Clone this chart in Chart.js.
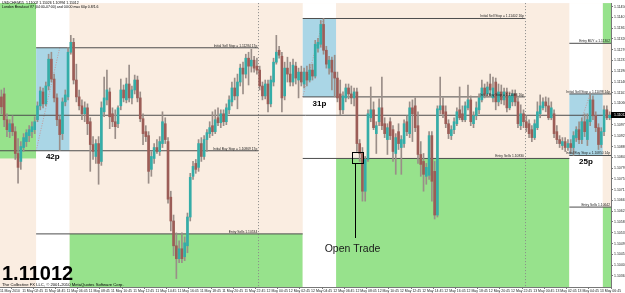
<!DOCTYPE html>
<html>
<head>
<meta charset="utf-8">
<script src="https://cdn.jsdelivr.net/npm/chart.js@4.4.1/dist/chart.umd.min.js"></script>
<style>
  html, body { margin: 0; padding: 0; background: #fff; }
</style>
</head>
<body>
<canvas id="chart" width="625" height="293"></canvas>
<script>
// ── Data: USDCHF M15, one row per candle [open, high, low, close] ───────────
// first candle 11 May 00:45, last candle 13 May 07:00
const ohlc = [
  // 11 May 00:45 - 03:45
  [1.11086, 1.11114, 1.11018, 1.11046], [1.11098, 1.11122, 1.10966, 1.10994],
  [1.10994, 1.11018, 1.10926, 1.10954], [1.10946, 1.10994, 1.10922, 1.10978],
  [1.10978, 1.11010, 1.10930, 1.10946], [1.10946, 1.10966, 1.10834, 1.10858],
  [1.10858, 1.10918, 1.10738, 1.10802], [1.10826, 1.10906, 1.10794, 1.10886],
  [1.10882, 1.10938, 1.10866, 1.10922], [1.10906, 1.10954, 1.10886, 1.10942],
  [1.10930, 1.10970, 1.10906, 1.10954], [1.10946, 1.10986, 1.10922, 1.10966],
  [1.10954, 1.11006, 1.10938, 1.10986],
  // 11 May 04:00 - 06:45 (range)
  [1.10994, 1.11066, 1.10986, 1.11050], [1.11050, 1.11126, 1.11034, 1.11110],
  [1.11106, 1.11122, 1.11042, 1.11058], [1.11058, 1.11146, 1.11050, 1.11130],
  [1.11130, 1.11258, 1.11114, 1.11238], [1.11238, 1.11266, 1.11146, 1.11158],
  [1.11158, 1.11178, 1.11066, 1.11082], [1.11082, 1.11098, 1.10970, 1.10994],
  [1.10994, 1.11010, 1.10870, 1.10934], [1.10938, 1.11082, 1.10914, 1.11066],
  [1.11066, 1.11114, 1.11050, 1.11094], [1.11086, 1.11286, 1.11074, 1.11266],
  // 11 May 07:00 - 23:45
  [1.11266, 1.11334, 1.11258, 1.11306], [1.11306, 1.11322, 1.11138, 1.11154],
  [1.11154, 1.11218, 1.11066, 1.11086], [1.11086, 1.11114, 1.11034, 1.11050],
  [1.11050, 1.11074, 1.10994, 1.11018], [1.11018, 1.11066, 1.10986, 1.11042],
  [1.11042, 1.11058, 1.10934, 1.10978], [1.10986, 1.11002, 1.10786, 1.10894],
  [1.10894, 1.10926, 1.10834, 1.10866], [1.10846, 1.10914, 1.10818, 1.10898],
  [1.10898, 1.10926, 1.10734, 1.10818], [1.10826, 1.11066, 1.10810, 1.11042],
  [1.11026, 1.11166, 1.11006, 1.11082], [1.11074, 1.11194, 1.11054, 1.11114],
  [1.11106, 1.11122, 1.10958, 1.11006], [1.11018, 1.11042, 1.10966, 1.10986],
  [1.10986, 1.11034, 1.10918, 1.10966], [1.10978, 1.11050, 1.10962, 1.11042],
  [1.11050, 1.11158, 1.11034, 1.11114], [1.11114, 1.11134, 1.11066, 1.11082],
  [1.11074, 1.11162, 1.11062, 1.11138], [1.11138, 1.11214, 1.11066, 1.11082],
  [1.11082, 1.11130, 1.11058, 1.11114], [1.11114, 1.11174, 1.11098, 1.11154],
  [1.11154, 1.11170, 1.11066, 1.11082], [1.11082, 1.11106, 1.10986, 1.10998],
  [1.10998, 1.11018, 1.10894, 1.10938], [1.10946, 1.10970, 1.10906, 1.10926],
  [1.10930, 1.10946, 1.10738, 1.10786], [1.10794, 1.10866, 1.10766, 1.10846],
  [1.10838, 1.10898, 1.10818, 1.10882], [1.10882, 1.10914, 1.10858, 1.10866],
  [1.10866, 1.10926, 1.10850, 1.10906], [1.10898, 1.11026, 1.10882, 1.10986],
  [1.10978, 1.11002, 1.10898, 1.10914], [1.10906, 1.10922, 1.10658, 1.10674],
  [1.10682, 1.10706, 1.10546, 1.10586], [1.10586, 1.10610, 1.10446, 1.10486],
  [1.10486, 1.10538, 1.10354, 1.10434], [1.10434, 1.10506, 1.10418, 1.10474],
  [1.10474, 1.10538, 1.10418, 1.10434], [1.10442, 1.10522, 1.10426, 1.10498],
  [1.10486, 1.10618, 1.10458, 1.10602], [1.10602, 1.10778, 1.10586, 1.10762],
  [1.10766, 1.10826, 1.10754, 1.10806], [1.10818, 1.10834, 1.10778, 1.10794],
  [1.10802, 1.10914, 1.10786, 1.10898], [1.10898, 1.10922, 1.10826, 1.10846],
  [1.10846, 1.10930, 1.10834, 1.10914], [1.10914, 1.10954, 1.10866, 1.10942],
  [1.10938, 1.10986, 1.10922, 1.10962], [1.10970, 1.11026, 1.10930, 1.10946],
  [1.10946, 1.11034, 1.10938, 1.10994], [1.11002, 1.11042, 1.10970, 1.10982],
  [1.10982, 1.11034, 1.10962, 1.11018], [1.11018, 1.11034, 1.10970, 1.10986],
  [1.10986, 1.11058, 1.10974, 1.11042], [1.11034, 1.11090, 1.11018, 1.11074],
  [1.11066, 1.11146, 1.11050, 1.11122], [1.11122, 1.11162, 1.11074, 1.11090],
  [1.11090, 1.11178, 1.11038, 1.11146], [1.11146, 1.11218, 1.11130, 1.11202],
  [1.11202, 1.11226, 1.11098, 1.11178], [1.11178, 1.11258, 1.11162, 1.11242],
  [1.11242, 1.11266, 1.11134, 1.11210], [1.11210, 1.11278, 1.11186, 1.11234],
  [1.11234, 1.11250, 1.11186, 1.11202], [1.11210, 1.11242, 1.11178, 1.11194],
  // 12 May 00:00 - 03:45
  [1.11194, 1.11210, 1.11114, 1.11130], [1.11130, 1.11146, 1.11074, 1.11090],
  [1.11090, 1.11154, 1.11078, 1.11138], [1.11138, 1.11154, 1.11026, 1.11058],
  [1.11058, 1.11170, 1.11046, 1.11154], [1.11146, 1.11242, 1.11130, 1.11226],
  [1.11226, 1.11334, 1.11218, 1.11266], [1.11274, 1.11290, 1.11242, 1.11254],
  [1.11250, 1.11266, 1.11026, 1.11082], [1.11090, 1.11226, 1.11074, 1.11202],
  [1.11202, 1.11246, 1.11146, 1.11178], [1.11178, 1.11226, 1.11130, 1.11146],
  [1.11146, 1.11238, 1.11130, 1.11214], [1.11210, 1.11226, 1.11138, 1.11162],
  [1.11154, 1.11202, 1.11082, 1.11186], [1.11186, 1.11210, 1.11130, 1.11146],
  // 12 May 04:00 - 06:45 (range)
  [1.11138, 1.11202, 1.11122, 1.11186], [1.11186, 1.11210, 1.11130, 1.11154],
  [1.11154, 1.11218, 1.11146, 1.11194], [1.11194, 1.11218, 1.11154, 1.11170],
  [1.11170, 1.11314, 1.11162, 1.11298], [1.11282, 1.11322, 1.11266, 1.11306],
  [1.11298, 1.11394, 1.11286, 1.11378], [1.11378, 1.11402, 1.11258, 1.11274],
  [1.11274, 1.11290, 1.11202, 1.11218], [1.11202, 1.11250, 1.11178, 1.11234],
  [1.11234, 1.11246, 1.11114, 1.11186], [1.11186, 1.11254, 1.11086, 1.11162],
  // 12 May 07:00 - 23:45
  [1.11162, 1.11186, 1.11066, 1.11082], [1.11098, 1.11154, 1.11014, 1.11034],
  [1.11034, 1.11106, 1.11018, 1.11090], [1.11082, 1.11138, 1.11066, 1.11122],
  [1.11122, 1.11138, 1.11078, 1.11098], [1.11098, 1.11130, 1.11058, 1.11082],
  [1.11082, 1.11122, 1.11050, 1.11106], [1.11106, 1.11122, 1.10866, 1.10898],
  [1.10898, 1.10914, 1.10826, 1.10858], [1.10858, 1.10882, 1.10666, 1.10706],
  [1.10706, 1.10846, 1.10666, 1.10834], [1.10834, 1.11034, 1.10826, 1.11018],
  [1.11002, 1.11126, 1.10986, 1.11034], [1.11034, 1.11066, 1.10954, 1.10962],
  [1.10938, 1.10986, 1.10858, 1.10970], [1.10986, 1.11078, 1.10970, 1.11042],
  [1.11042, 1.11166, 1.10954, 1.10970], [1.10978, 1.11002, 1.10922, 1.10938],
  [1.10914, 1.10978, 1.10854, 1.10962], [1.10986, 1.11002, 1.10914, 1.10930],
  [1.10954, 1.10970, 1.10826, 1.10866], [1.10858, 1.10938, 1.10774, 1.10922],
  [1.10946, 1.10978, 1.10874, 1.10898], [1.10882, 1.10930, 1.10774, 1.10914],
  [1.10898, 1.10994, 1.10882, 1.10978], [1.10986, 1.11010, 1.10930, 1.10946],
  [1.10938, 1.11066, 1.10922, 1.11042], [1.11042, 1.11074, 1.10906, 1.11018],
  [1.11050, 1.11082, 1.10946, 1.10962], [1.10970, 1.11026, 1.10818, 1.10854],
  [1.10854, 1.10906, 1.10766, 1.10814], [1.10826, 1.10858, 1.10706, 1.10774],
  [1.10766, 1.10818, 1.10734, 1.10802], [1.10770, 1.10946, 1.10754, 1.10930],
  [1.10930, 1.10946, 1.10666, 1.10746], [1.10786, 1.10826, 1.10594, 1.10610],
  [1.10610, 1.11050, 1.10602, 1.11038], [1.11034, 1.11166, 1.11018, 1.11050],
  [1.11050, 1.11082, 1.11002, 1.11018], [1.11026, 1.11050, 1.10962, 1.10978],
  [1.10978, 1.10994, 1.10918, 1.10938], [1.10930, 1.10970, 1.10914, 1.10954],
  [1.10954, 1.11002, 1.10938, 1.10986], [1.10978, 1.11042, 1.10970, 1.11026],
  [1.11034, 1.11126, 1.10994, 1.11002], [1.11018, 1.11050, 1.10986, 1.10994],
  [1.10994, 1.11066, 1.10986, 1.11050], [1.11042, 1.11134, 1.11034, 1.11074],
  [1.11074, 1.11090, 1.10970, 1.10986], [1.10978, 1.11026, 1.10962, 1.11010],
  [1.11010, 1.11066, 1.10994, 1.11042], [1.11034, 1.11098, 1.11018, 1.11082],
  [1.11074, 1.11154, 1.11066, 1.11122], [1.11122, 1.11138, 1.11082, 1.11098],
  [1.11098, 1.11146, 1.11086, 1.11126], [1.11138, 1.11178, 1.11090, 1.11114],
  [1.11082, 1.11166, 1.11066, 1.11122], [1.11146, 1.11162, 1.11034, 1.11066],
  [1.11066, 1.11138, 1.11050, 1.11106], [1.11106, 1.11134, 1.11058, 1.11074],
  [1.11074, 1.11122, 1.11054, 1.11106], [1.11106, 1.11122, 1.11026, 1.11042],
  [1.11042, 1.11106, 1.11034, 1.11090], [1.11066, 1.11114, 1.11050, 1.11098],
  [1.11098, 1.11114, 1.11050, 1.11066], [1.11066, 1.11082, 1.10962, 1.10978],
  [1.10970, 1.11054, 1.10954, 1.11018], [1.11018, 1.11034, 1.10962, 1.10986],
  // 13 May 00:00 - 03:45
  [1.10986, 1.11010, 1.10946, 1.10962], [1.10978, 1.10994, 1.10922, 1.10938],
  [1.10954, 1.10970, 1.10906, 1.10922], [1.10922, 1.10994, 1.10914, 1.10978],
  [1.10962, 1.11066, 1.10954, 1.11026], [1.11018, 1.11094, 1.11002, 1.11050],
  [1.11042, 1.11082, 1.11034, 1.11066], [1.11066, 1.11086, 1.11026, 1.11050],
  [1.11050, 1.11082, 1.10994, 1.11002], [1.11002, 1.11066, 1.10994, 1.11042],
  [1.11018, 1.11034, 1.10922, 1.10938], [1.10946, 1.10970, 1.10898, 1.10914],
  [1.10914, 1.10930, 1.10882, 1.10898], [1.10890, 1.10922, 1.10874, 1.10906],
  [1.10906, 1.10922, 1.10866, 1.10882], [1.10882, 1.10914, 1.10870, 1.10898],
  // 13 May 04:00 - 06:45 (range)
  [1.10898, 1.10914, 1.10858, 1.10882], [1.10882, 1.10946, 1.10850, 1.10930],
  [1.10922, 1.10966, 1.10906, 1.10954], [1.10954, 1.10986, 1.10898, 1.10914],
  [1.10914, 1.11002, 1.10898, 1.10986], [1.10986, 1.11018, 1.10926, 1.10946],
  [1.10914, 1.11018, 1.10890, 1.10994], [1.10986, 1.11098, 1.10970, 1.11074],
  [1.11074, 1.11090, 1.10994, 1.11010], [1.11010, 1.11026, 1.10946, 1.10962],
  [1.10962, 1.10978, 1.10874, 1.10894], [1.10894, 1.10962, 1.10882, 1.10946],
  // 13 May 07:00 -
  [1.10946, 1.11050, 1.10930, 1.11034], [1.11034, 1.11050, 1.10994, 1.11002],
  [1.11002, 1.11026, 1.10994, 1.11012]
];

const lastPrice = 1.11012;
const priceMin = 1.10320;
const priceMax = 1.11464;

// price scale labels on the right
const priceTicks = [
  1.11450, 1.11407, 1.11363, 1.11320, 1.11276, 1.11233, 1.11190, 1.11146, 1.11103,
  1.11060, 1.11016, 1.10973, 1.10929, 1.10886, 1.10842, 1.10799, 1.10756, 1.10712,
  1.10669, 1.10625, 1.10582, 1.10539, 1.10495, 1.10452, 1.10408, 1.10365
];

// time scale labels, one every 8 candles
const tickLabels = [
  "11 May 2010", "11 May 02:45", "11 May 04:45", "11 May 06:45", "11 May 08:45",
  "11 May 10:45", "11 May 12:45", "11 May 14:45", "11 May 16:45", "11 May 18:45",
  "11 May 20:45", "11 May 22:45", "12 May 00:45", "12 May 02:45", "12 May 04:45",
  "12 May 06:45", "12 May 08:45", "12 May 10:45", "12 May 12:45", "12 May 14:45",
  "12 May 16:45", "12 May 18:45", "12 May 20:45", "12 May 22:45", "13 May 00:45",
  "13 May 02:45", "13 May 04:45", "13 May 06:45"
];

// London range boxes: [first candle, candle after end, low, high]
const rangeBoxes = [
  [13, 25, 1.10869, 1.11284],
  [109, 121, 1.11086, 1.11402],
  [205, 217, 1.10850, 1.11098]
];
const boxPips = ["42p", "31p", "25p"];

// entry zones: [from candle, to candle, low price, high price] (null = chart edge)
const entryZones = [
  [0, 13, 1.10838, null],
  [25, 109, null, 1.10534],
  [121, 205, null, 1.10838],
  [217, 220, 1.11302, null],
  [217, 220, null, 1.10642]
];

// levels: [price, from candle, to candle, label end candle, label]
const levels = [
  [1.11284, 13, 93, 93, "Initial Sell Stop = 1.11284 17p"],
  [1.10869, 0, 93, 93, "Initial Buy Stop = 1.10869 17p"],
  [1.10534, 13, 109, 93, "Entry Sells 1.10534"],
  [1.11402, 109, 189, 189, "Initial Sell Stop = 1.11402 16p"],
  [1.11086, 109, 189, 189, "Initial Buy Stop = 1.11086 16p"],
  [1.10838, 109, 205, 189, "Entry Sells 1.10830"],
  [1.11302, 205, 220, 220, "Entry BUY = 1.11302"],
  [1.11098, 205, 220, 220, "Initial Sell Stop = 1.11098 14p"],
  [1.10850, 205, 220, 220, "Initial Buy Stop = 1.10850 14p"],
  [1.10642, 205, 220, 220, "Entry Sells 1.10642"]
];

// dotted range trend lines: [from candle, from price, to candle, to price]
const rangeTrends = [
  [12.5, 1.10869, 21, 1.11284],
  [108.5, 1.11086, 116, 1.11402],
  [204.5, 1.10850, 212, 1.11098]
];

const daySeparators = [93, 189];
const openTradeAt = [128.4, 1.10838];

// ── Styles ──────────────────────────────────────────────────────────────────
const FONT = '"Liberation Sans", Arial, sans-serif';
const colors = {
  peach: "#faede1",
  green: "#97e28c",
  blue: "#aad6e6",
  bull: "#34ada8",
  bear: "#9c5d57",
  wick: "#9a8e88",
  level: "#4d4d4d",
  trend: "#c39a9a",
  sep: "#8a8a8a"
};

// ── Datasets ────────────────────────────────────────────────────────────────
const isUp = ohlc.map((c) => c[3] >= c[0]);

const bodies = {
  type: "bar",
  order: 0,
  grouped: false,
  barThickness: 2,
  minBarLength: 1,
  borderWidth: 0,
  borderSkipped: false,
  data: ohlc.map((c, i) => ({ x: i, y: [c[0], c[3]] })),
  backgroundColor: isUp.map((u) => (u ? colors.bull : colors.bear))
};

const wicks = {
  type: "bar",
  order: 1,
  grouped: false,
  barThickness: 1,
  borderWidth: 0,
  borderSkipped: false,
  data: ohlc.map((c, i) => ({ x: i, y: [c[2], c[1]] })),
  backgroundColor: colors.wick
};

const lineSet = (points, color, dash, order) => ({
  type: "line",
  order,
  data: points,
  borderColor: color,
  borderWidth: 1,
  borderDash: dash,
  pointRadius: 0,
  fill: false,
  tension: 0
});

const levelSets = levels.map(([p, from, to]) =>
  lineSet([{ x: from - 0.5, y: p }, { x: to - 0.5, y: p }], colors.level, [], 2));
levelSets.push(lineSet([{ x: -0.5, y: lastPrice }, { x: ohlc.length - 0.5, y: lastPrice }], colors.level, [], 2));

const trendSets = rangeTrends.map(([x0, p0, x1, p1]) =>
  lineSet([{ x: x0, y: p0 }, { x: x1, y: p1 }], colors.trend, [1, 1.5], 3));

// ── Backgrounds, separators and text (MT4 objects) ──────────────────────────
const mt4Overlay = {
  id: "mt4Overlay",
  beforeDraw(chart) {
    const { ctx, chartArea: a, scales: { x, y } } = chart;
    const px = (i) => x.getPixelForValue(i - 0.5);
    ctx.save();
    ctx.fillStyle = "#ffffff";
    ctx.fillRect(0, 0, chart.width, chart.height);
    ctx.fillStyle = colors.peach;
    ctx.fillRect(a.left, a.top, a.right - a.left, a.bottom - a.top);

    ctx.fillStyle = colors.green;
    for (const [from, to, lo, hi] of entryZones) {
      const y0 = hi == null ? a.top : y.getPixelForValue(hi);
      const y1 = lo == null ? a.bottom : y.getPixelForValue(lo);
      ctx.fillRect(px(from), y0, px(to) - px(from), y1 - y0);
    }
    for (const [from, to, lo, hi] of rangeBoxes) {
      ctx.fillStyle = "#ffffff";
      ctx.fillRect(px(from), a.top, px(to) - px(from), a.bottom - a.top);
      ctx.fillStyle = colors.blue;
      const yh = y.getPixelForValue(hi), yl = y.getPixelForValue(lo);
      ctx.fillRect(px(from), yh, px(to) - px(from), yl - yh);
    }

    ctx.strokeStyle = colors.sep;
    ctx.lineWidth = 1;
    ctx.setLineDash([1, 2]);
    for (const d of daySeparators) {
      const xx = Math.round(px(d)) + 0.5;
      ctx.beginPath();
      ctx.moveTo(xx, a.top);
      ctx.lineTo(xx, a.bottom);
      ctx.stroke();
    }
    ctx.restore();
  },
  afterDraw(chart) {
    const { ctx, chartArea: a, scales: { x, y } } = chart;
    const px = (i) => x.getPixelForValue(i - 0.5);
    ctx.save();

    // level labels
    ctx.font = `3.3px ${FONT}`;
    ctx.fillStyle = "#1e1e1e";
    ctx.textAlign = "right";
    ctx.textBaseline = "bottom";
    for (const [p, , , labelAt, text] of levels) {
      ctx.fillText(text, px(labelAt) - 1, y.getPixelForValue(p) - 0.5);
    }

    // range size in pips
    ctx.font = `bold 8px ${FONT}`;
    ctx.fillStyle = "#000";
    ctx.textAlign = "center";
    ctx.textBaseline = "middle";
    rangeBoxes.forEach(([from, to, lo], k) => {
      ctx.fillText(boxPips[k], (px(from) + px(to)) / 2, y.getPixelForValue(lo) + 6.5);
    });

    // open trade marker
    const ox = Math.round(x.getPixelForValue(openTradeAt[0]));
    const oy = Math.round(y.getPixelForValue(openTradeAt[1]));
    ctx.strokeStyle = "#000";
    ctx.lineWidth = 1;
    ctx.strokeRect(ox - 5.5, oy - 5.5, 11, 11);
    ctx.beginPath();
    ctx.moveTo(ox - 2.5, oy + 5.5);
    ctx.lineTo(ox - 2.5, oy + 80);
    ctx.stroke();
    ctx.font = `10.5px ${FONT}`;
    ctx.fillStyle = "#1a1a1a";
    ctx.fillText("Open Trade", ox - 5.5, oy + 91.5);

    // header
    ctx.font = `3.5px ${FONT}`;
    ctx.textAlign = "left";
    ctx.textBaseline = "middle";
    ctx.fillStyle = "#000";
    ctx.fillText("USDCHF,M15  1.11002 1.11026 1.10994 1.11012", 2, 3);
    ctx.fillText("London Breakout V7 (04:00-07:00) and 04:00 max 60p 0.8/1.6", 2, 7);

    // big price + copyright
    ctx.textBaseline = "alphabetic";
    ctx.font = `bold 20px ${FONT}`;
    ctx.fillText(lastPrice.toFixed(5), 2, 280);
    ctx.font = `4.2px ${FONT}`;
    ctx.fillText("The Collective FX LLC, \u00a9 2001-2010 MetaQuotes Software Corp.", 2, 286);

    // current price tag on the axis
    const yp = y.getPixelForValue(lastPrice);
    ctx.fillStyle = "#000";
    ctx.fillRect(a.right, Math.round(yp) - 3, chart.width - a.right, 6);
    ctx.fillStyle = "#fff";
    ctx.font = `3.5px ${FONT}`;
    ctx.textBaseline = "middle";
    ctx.fillText(lastPrice.toFixed(5), a.right + 3, yp);
    ctx.restore();
  }
};

// ── Chart ───────────────────────────────────────────────────────────────────
new Chart(document.getElementById("chart"), {
  type: "bar",
  data: { datasets: [bodies, wicks, ...levelSets, ...trendSets] },
  options: {
    responsive: false,
    animation: false,
    devicePixelRatio: 1,
    events: [],
    layout: { padding: { top: 1, left: 0, right: 0, bottom: 0 } },
    plugins: { legend: { display: false }, tooltip: { enabled: false } },
    scales: {
      x: {
        type: "linear",
        min: -0.5,
        max: ohlc.length - 0.5,
        offset: false,
        grid: { display: true, drawOnChartArea: false, tickLength: 2, color: "#777" },
        border: { display: true, color: "#777" },
        afterBuildTicks: (s) => { s.ticks = tickLabels.map((_, k) => ({ value: k * 8 - 0.5 })); },
        afterFit: (s) => { s.height = 6; },
        ticks: {
          autoSkip: false, maxRotation: 0, minRotation: 0, align: "start", padding: 0,
          color: "#222", font: { size: 3.5, family: FONT },
          callback: (v, i) => tickLabels[i]
        }
      },
      y: {
        position: "right",
        min: priceMin,
        max: priceMax,
        grid: { display: true, drawOnChartArea: false, tickLength: 2, color: "#777" },
        border: { display: true, color: "#777" },
        afterBuildTicks: (s) => { s.ticks = priceTicks.map((v) => ({ value: v })); },
        afterFit: (s) => { s.width = 14; },
        ticks: {
          autoSkip: false, padding: 1, color: "#222", font: { size: 3.5, family: FONT },
          callback: (v) => Number(v).toFixed(5)
        }
      }
    }
  },
  plugins: [mt4Overlay]
});
</script>
</body>
</html>
